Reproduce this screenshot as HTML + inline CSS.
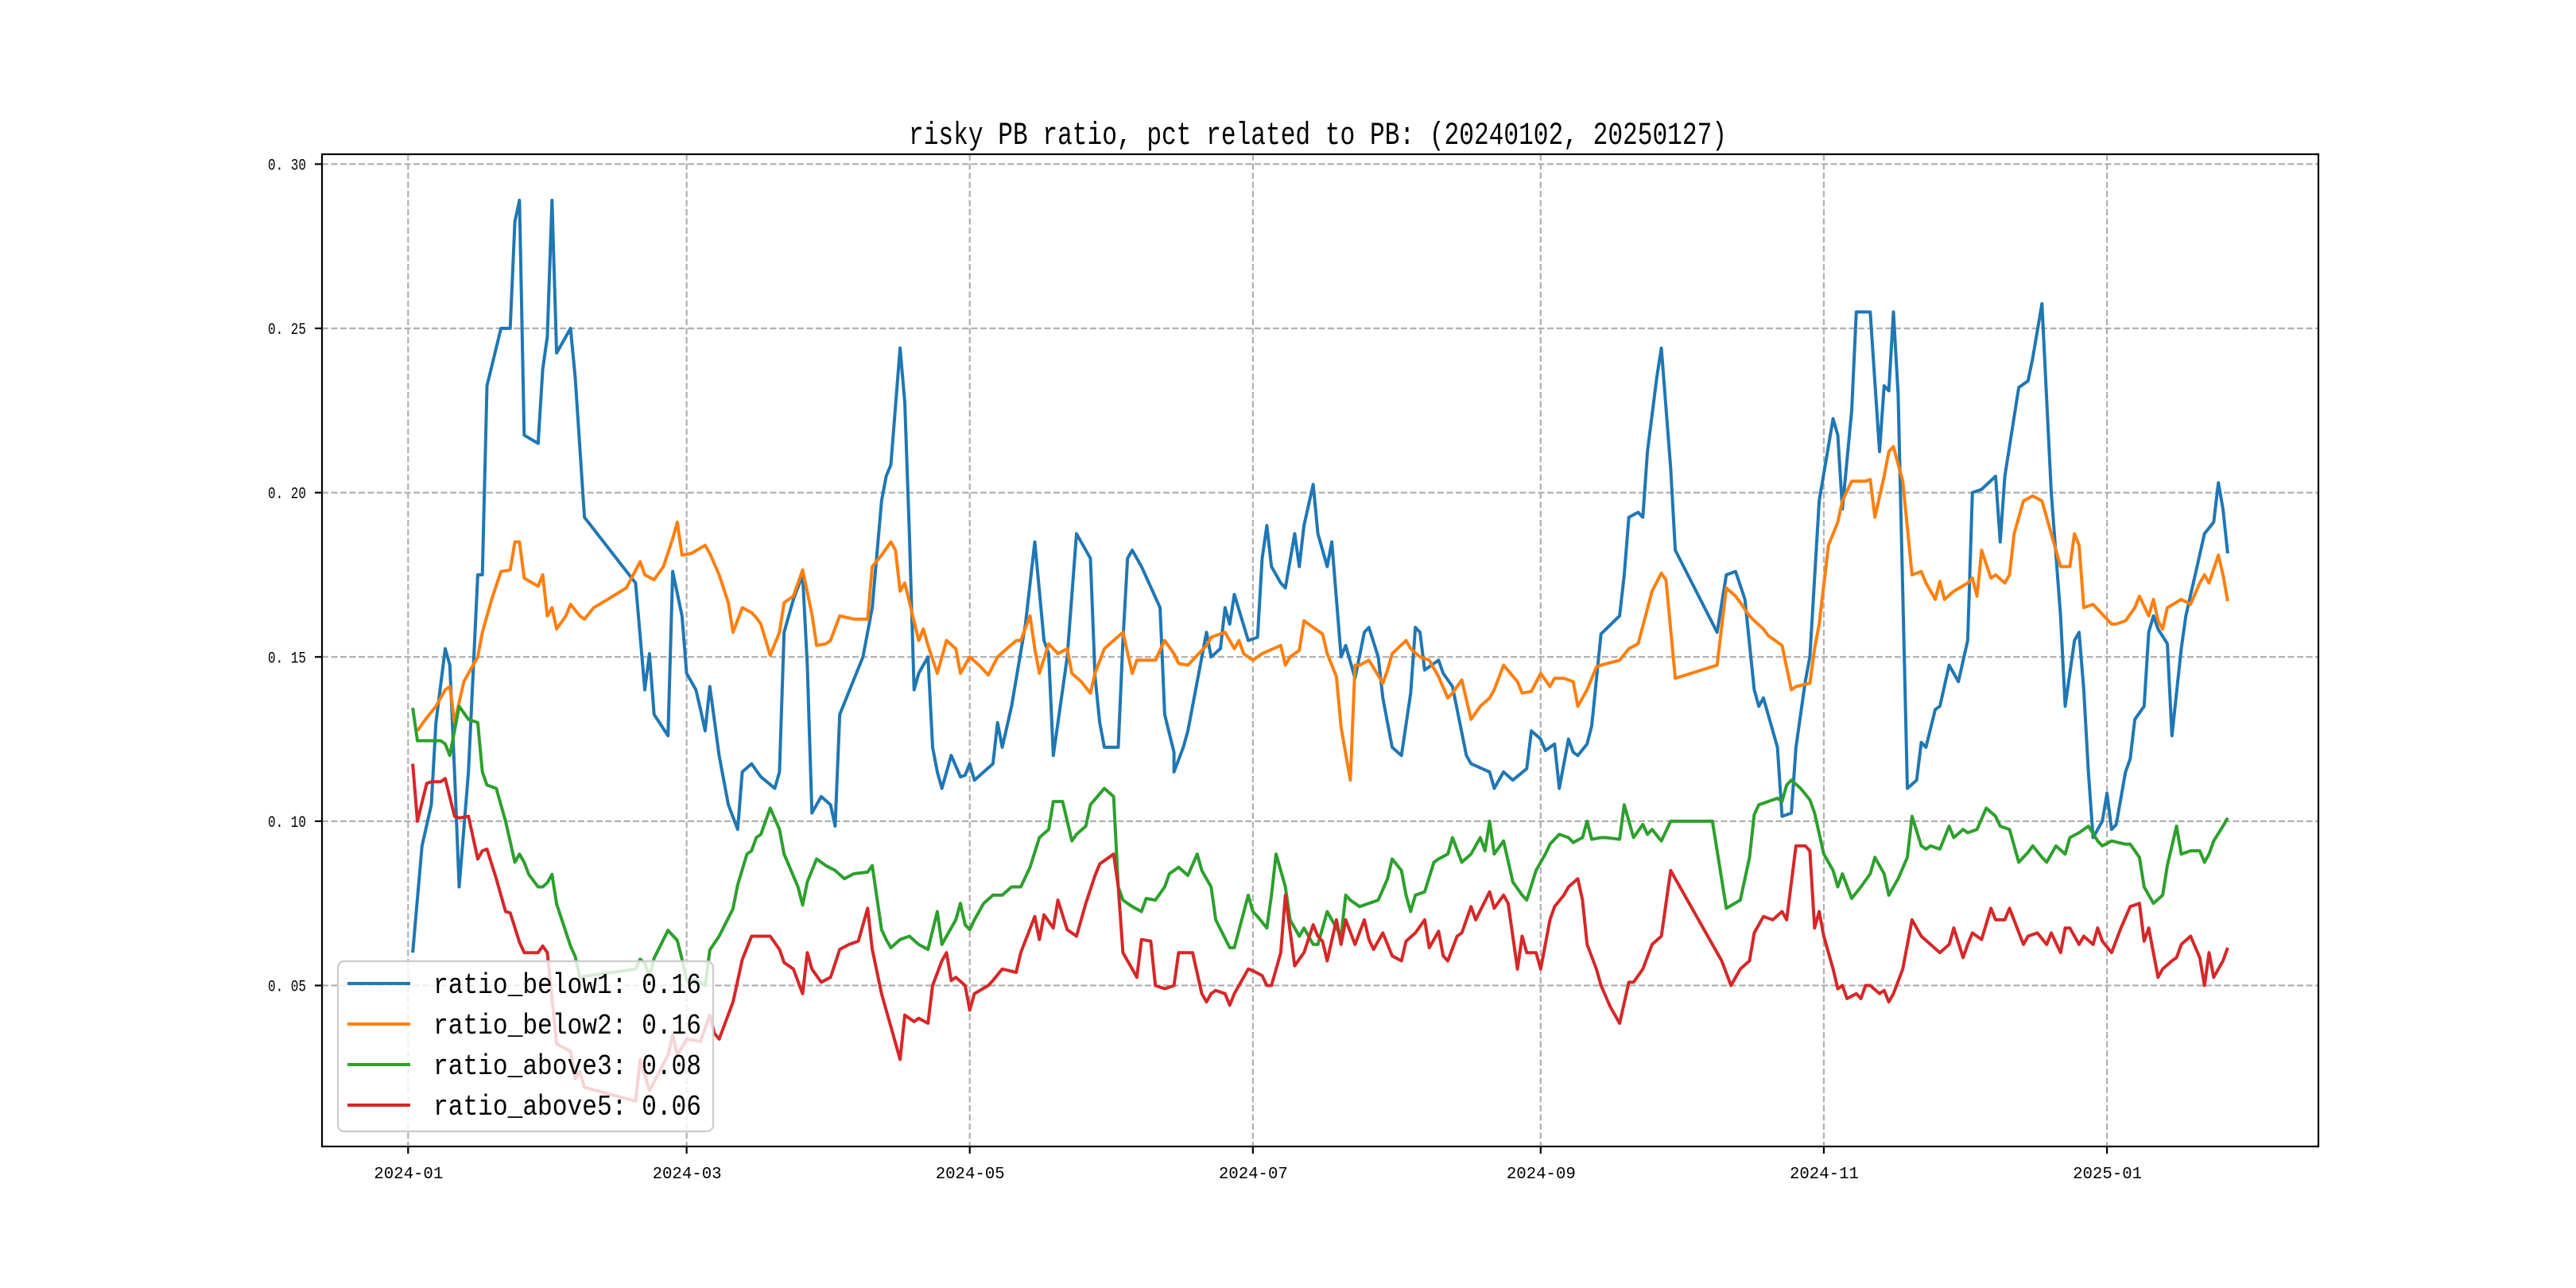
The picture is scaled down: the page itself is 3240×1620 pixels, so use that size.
<!DOCTYPE html>
<html><head><meta charset="utf-8"><style>
html,body{margin:0;padding:0;background:#fff;}
svg{display:block;}
text{font-family:"Liberation Mono","WenQuanYi Zen Hei",monospace;}
</style></head>
<body>
<svg id="chart" width="3240" height="1620" viewBox="0 0 3240 1620" xmlns="http://www.w3.org/2000/svg">
<rect x="0" y="0" width="3240" height="1620" fill="#fff"/>
<text x="1143" y="181" font-size="40" textLength="1029" lengthAdjust="spacingAndGlyphs">risky PB ratio, pct related to PB: (20240102, 20250127)</text>
<g id="grid"></g>
<g id="series"></g>
<rect x="405" y="194" width="2511" height="1248" fill="none" stroke="#000" stroke-width="2.2"/>
<g id="axes"></g>
<g id="legend"></g>
</svg>
<script>
// ---- data (days since 2024-01-01, values in units of 0.0001) ----
const xTickLabels = ["2024-01","2024-03","2024-05","2024-07","2024-09","2024-11","2025-01"];
const xTickDays = [0,60,121,182,244,305,366];
const yTickValues = [0.05,0.10,0.15,0.20,0.25,0.30];
const yTickLabels = ["0. 05","0. 10","0. 15","0. 20","0. 25","0. 30"];
const seriesNames = ["ratio_below1","ratio_below2","ratio_above3","ratio_above5"];
const seriesLast = ["0.16","0.16","0.08","0.06"];
const seriesColors = ["#1f77b4","#ff7f0e","#2ca02c","#d62728"];

const below1Days = [1,3,5,6,8,9,10,11,13,15,16,17,20,22,23,24,25,28,29,30,31,32,35,36,38,49,51,52,53,56,57,59,60,62,63,64,65,67,69,71,72,74,76,79,80,81,83,85,86,87,89,91,92,93,98,100,102,103,104,106,107,108,109,110,112,113,114,115,117,119,120,121,122,126,127,128,130,133,135,136,137,138,139,141,142,144,147,148,149,150,153,154,155,156,158,162,163,165,165,167,168,172,173,175,176,177,178,181,183,184,185,186,188,189,191,192,193,195,196,198,199,201,202,204,206,207,209,210,212,214,216,217,218,219,222,223,225,228,229,233,234,236,238,241,242,244,245,247,248,250,251,252,254,255,257,261,262,263,265,266,267,269,270,272,273,282,284,286,288,290,291,292,295,296,298,299,301,302,304,307,308,309,311,312,315,317,318,319,320,321,322,323,325,326,327,329,330,332,334,336,337,339,342,343,344,347,349,350,352,354,356,357,359,360,361,362,363,365,366,367,368,370,371,372,374,375,376,377,379,380,382,383,385,387,389,390,391,392];
const below1Vals = [600,925,1050,1300,1525,1475,1150,800,1150,1750,1750,2325,2500,2500,2825,2890,2175,2150,2375,2475,2890,2425,2500,2350,1925,1725,1400,1510,1325,1260,1760,1625,1450,1400,1340,1275,1410,1200,1050,975,1150,1175,1135,1100,1150,1575,1675,1750,1475,1025,1075,1050,985,1325,1500,1650,1975,2050,2085,2440,2275,1875,1400,1450,1500,1225,1150,1100,1200,1135,1140,1175,1125,1175,1300,1225,1350,1600,1850,1700,1550,1510,1200,1400,1500,1875,1800,1440,1300,1225,1225,1550,1800,1825,1775,1650,1325,1210,1150,1225,1275,1575,1500,1525,1650,1600,1690,1550,1560,1800,1900,1775,1725,1710,1875,1775,1900,2025,1875,1775,1850,1500,1535,1435,1575,1590,1500,1375,1225,1200,1390,1590,1575,1460,1490,1450,1410,1200,1175,1150,1100,1150,1125,1160,1275,1250,1215,1235,1100,1250,1210,1200,1235,1290,1570,1625,1750,1925,1940,1925,2125,2350,2440,2075,1825,1575,1750,1760,1675,1400,1350,1375,1225,1015,1025,1225,1425,1500,1975,2225,2175,1950,2250,2550,2550,2125,2325,2310,2550,2300,1700,1100,1125,1240,1225,1340,1350,1475,1425,1550,2000,2010,2050,1850,2050,2320,2340,2410,2575,2000,1625,1350,1550,1575,1400,1150,950,1000,1085,975,990,1150,1190,1310,1350,1575,1625,1585,1540,1260,1525,1625,1750,1875,1910,2030,1950,1815];

const below2Days = [2,4,6,8,9,10,12,13,15,16,18,20,22,23,24,25,28,29,30,31,32,34,35,37,38,40,43,47,50,51,53,55,57,58,59,61,64,65,67,69,70,72,74,75,76,78,80,81,83,85,87,88,90,91,93,96,99,100,102,104,105,106,107,110,111,112,114,116,118,119,121,123,125,127,129,131,132,134,135,136,138,140,142,143,145,147,148,150,152,154,156,157,159,161,163,165,166,168,172,173,176,178,179,180,182,184,188,189,190,192,193,195,197,198,200,201,203,204,205,207,210,211,212,215,216,218,220,222,224,225,227,229,231,233,234,236,239,240,242,244,246,247,249,251,252,254,256,257,261,263,265,268,270,271,273,282,284,286,289,290,292,293,296,298,299,302,303,304,306,308,309,311,314,315,316,318,319,320,322,324,326,327,329,330,331,333,336,337,338,339,341,342,344,345,346,348,350,352,354,356,358,359,360,361,363,365,367,368,370,372,373,375,376,377,378,379,382,384,386,387,388,390,391,392];
const below2Vals = [1275,1315,1350,1400,1410,1300,1425,1450,1500,1575,1675,1760,1765,1850,1850,1740,1715,1750,1625,1650,1585,1625,1660,1625,1615,1650,1675,1710,1790,1750,1735,1775,1860,1910,1810,1815,1840,1815,1750,1665,1575,1650,1635,1620,1600,1505,1575,1665,1685,1765,1630,1535,1540,1550,1625,1615,1615,1775,1810,1850,1825,1700,1725,1550,1585,1535,1450,1550,1525,1450,1500,1475,1445,1500,1525,1550,1550,1625,1525,1450,1540,1510,1525,1450,1425,1390,1450,1525,1550,1575,1450,1490,1490,1490,1550,1510,1480,1475,1535,1560,1575,1525,1550,1510,1490,1510,1535,1475,1500,1520,1610,1590,1570,1510,1440,1285,1125,1475,1475,1490,1420,1460,1510,1550,1525,1500,1490,1440,1375,1390,1430,1310,1350,1375,1400,1475,1425,1390,1395,1450,1410,1435,1435,1425,1350,1400,1470,1475,1490,1525,1540,1700,1755,1735,1435,1475,1710,1685,1625,1610,1585,1565,1535,1400,1410,1420,1525,1600,1840,1910,1975,2035,2035,2040,1925,2050,2125,2140,2035,1750,1760,1725,1675,1730,1675,1700,1725,1740,1685,1825,1740,1750,1725,1750,1875,1975,1990,1975,1875,1775,1775,1875,1840,1650,1660,1630,1600,1600,1610,1650,1685,1625,1675,1610,1585,1650,1675,1660,1725,1750,1725,1810,1750,1670];

const above3Days = [1,2,5,7,8,9,11,13,15,16,17,19,21,23,24,25,26,28,29,30,31,32,35,36,37,38,49,50,51,52,53,56,58,59,60,62,64,65,67,70,71,73,74,75,76,78,80,81,84,85,86,88,90,92,94,96,99,100,102,103,104,106,108,110,112,114,115,118,119,120,121,122,124,126,128,130,132,134,136,138,139,141,143,144,146,147,150,152,153,154,156,158,159,161,163,164,166,168,170,171,173,174,177,178,181,182,183,185,186,187,189,190,192,193,195,196,198,199,201,202,203,205,209,211,212,214,215,216,217,219,221,222,224,225,227,229,231,232,233,234,236,238,240,241,243,245,246,248,250,251,253,254,255,257,258,261,262,264,266,267,268,270,272,274,281,284,287,289,290,291,295,296,297,298,300,302,303,305,307,308,309,311,313,315,316,318,319,321,323,324,326,327,328,330,332,333,335,336,338,340,342,343,345,347,349,350,352,353,355,357,358,360,362,364,365,367,370,371,373,374,376,378,379,381,382,384,386,387,388,389,391,392];
const above3Vals = [1345,1245,1245,1245,1235,1200,1350,1310,1300,1150,1110,1100,1000,875,900,875,838,800,800,813,838,748,620,588,523,528,550,580,567,528,583,668,637,580,516,518,499,608,650,734,806,900,910,950,960,1040,975,900,800,745,815,885,865,850,825,840,845,865,670,640,615,640,650,625,610,725,625,700,750,685,670,700,750,775,775,800,800,860,950,975,1060,1060,940,960,985,1050,1100,1075,800,760,740,725,765,760,800,840,860,835,900,850,800,700,615,615,775,725,710,675,775,900,800,700,650,675,625,625,725,700,650,775,760,740,760,825,885,850,775,725,775,785,875,885,900,950,875,900,950,910,1000,900,940,815,775,760,850,900,930,960,950,935,950,1000,945,950,950,945,1050,950,990,960,975,940,1000,1000,1000,735,760,890,1020,1050,1070,1060,1110,1125,1100,1065,1025,900,850,800,840,765,800,840,890,840,775,825,890,1015,925,915,925,915,985,950,975,965,975,1040,1015,985,975,875,905,925,890,875,925,900,950,965,985,940,925,940,930,930,890,800,750,775,865,985,900,910,910,875,900,940,985,1010];

const above5Days = [1,2,4,5,7,8,10,11,13,15,16,17,19,21,22,24,25,28,29,30,32,35,36,37,38,49,50,52,56,57,58,60,63,65,66,67,70,72,74,76,78,80,81,83,85,86,87,89,91,93,95,97,99,100,102,103,104,106,107,109,110,112,113,115,116,117,118,120,121,122,125,126,128,131,132,135,136,137,139,140,142,144,146,148,149,152,153,154,156,157,158,160,161,163,165,166,167,169,171,172,173,174,176,177,178,181,182,184,185,186,188,189,191,193,195,196,197,198,200,201,202,204,206,207,208,210,211,212,214,215,217,219,220,222,223,224,226,227,229,230,233,234,236,237,239,240,241,243,244,246,247,249,250,252,253,254,256,257,259,261,263,264,266,268,270,272,283,285,287,289,290,292,294,296,297,299,301,302,303,304,305,307,308,309,310,312,313,314,315,317,318,319,320,322,324,326,328,330,332,333,335,336,337,339,341,342,344,345,348,349,351,353,354,356,357,358,360,361,363,364,365,367,369,371,373,374,375,377,378,380,381,382,384,386,387,388,389,391,392];
const above5Vals = [1175,1000,1115,1120,1120,1130,1015,1010,1015,885,910,915,825,725,721,632,600,600,620,600,322,300,216,238,190,148,274,180,288,350,288,337,330,410,354,337,450,579,650,650,650,610,570,550,475,600,550,510,525,610,625,635,735,610,475,425,375,275,410,390,400,385,500,575,600,515,525,500,425,475,500,515,550,540,600,710,640,715,675,760,670,650,750,835,870,900,800,600,550,525,640,635,500,490,500,600,600,600,475,450,475,485,475,440,475,550,545,530,500,500,600,775,560,600,685,650,635,575,700,625,700,625,700,640,610,660,625,590,575,635,660,700,615,665,590,575,650,660,740,700,785,735,775,750,550,650,600,600,550,700,740,775,800,825,760,625,550,500,435,385,510,510,550,625,650,850,575,500,550,575,660,710,700,725,700,925,925,910,675,725,650,550,490,500,460,475,460,500,500,475,485,450,475,550,700,650,625,600,625,675,585,625,660,640,735,700,700,735,625,650,660,625,660,600,675,675,625,650,625,675,635,600,675,740,750,635,675,525,550,575,585,625,650,585,500,600,525,575,615];

const allDays = [below1Days, below2Days, above3Days, above5Days];
const allVals = [below1Vals, below2Vals, above3Vals, above5Vals];

// ---- axes ----
const PL=405, PR=2916, PT=194, PB=1442;
const XMIN=-18.55, XMAX=411.55, YMIN=0.001, YMAX=0.303;
function xScale(d){ return PL + (d - XMIN) / (XMAX - XMIN) * (PR - PL); }
function yScale(v){ return PB - (v - YMIN) / (YMAX - YMIN) * (PB - PT); }
const NS="http://www.w3.org/2000/svg";
function mk(tag, attrs, parent){ const e=document.createElementNS(NS,tag); for(const k in attrs) e.setAttribute(k,attrs[k]); parent.appendChild(e); return e; }

const grid=document.getElementById('grid'), axes=document.getElementById('axes');
xTickDays.forEach((d,i)=>{
  const x=xScale(d);
  const g=mk('line',{x1:x,x2:x,y1:PT,y2:PB,stroke:'#b0b0b0','stroke-width':2.2,'stroke-dasharray':'8 3.5'},grid);
  
  
  const t=mk('line',{x1:x,x2:x,y1:PB,y2:PB+9,stroke:'#000','stroke-width':2.2},axes);
  
  
  const l=mk('text',{x:x-43,y:PB+40,'font-size':21,textLength:87,lengthAdjust:'spacingAndGlyphs'},axes);
  l.textContent=xTickLabels[i];
  
  
});
yTickValues.forEach((v,i)=>{
  const y=yScale(v);
  const g=mk('line',{x1:PL,x2:PR,y1:y,y2:y,stroke:'#b0b0b0','stroke-width':2.2,'stroke-dasharray':'8 3.5'},grid);
  
  
  const t=mk('line',{x1:PL-9,x2:PL,y1:y,y2:y,stroke:'#000','stroke-width':2.2},axes);
  
  
  const l=mk('text',{x:337,y:y+7,'font-size':20,textLength:48,lengthAdjust:'spacingAndGlyphs'},axes);
  l.textContent=yTickLabels[i];
  
  
});

const sg=document.getElementById('series');
allDays.forEach((days,s)=>{
  const vals=allVals[s];
  const pts=days.map((d,i)=>xScale(d).toFixed(1)+','+yScale(vals[i]/10000).toFixed(1)).join(' ');
  const p=mk('polyline',{points:pts,fill:'none',stroke:seriesColors[s],'stroke-width':4,'stroke-linejoin':'round'},sg);
  
  
});

// ---- legend ----
const lg=document.getElementById('legend');
const box=mk('rect',{x:425,y:1209,width:472,height:214,rx:8,fill:'#fff','fill-opacity':0.8,stroke:'#cccccc','stroke-width':2.2},lg);


seriesNames.forEach((n,i)=>{
  const y=1237+i*51;
  const ln=mk('line',{x1:437,x2:516,y1:y,y2:y,stroke:seriesColors[i],'stroke-width':4},lg);
  
  
  const t=mk('text',{x:545,y:y+12,'font-size':36,textLength:337,lengthAdjust:'spacingAndGlyphs'},lg);
  t.textContent=n+': '+seriesLast[i];
  
  
});
</script>
</body></html>
